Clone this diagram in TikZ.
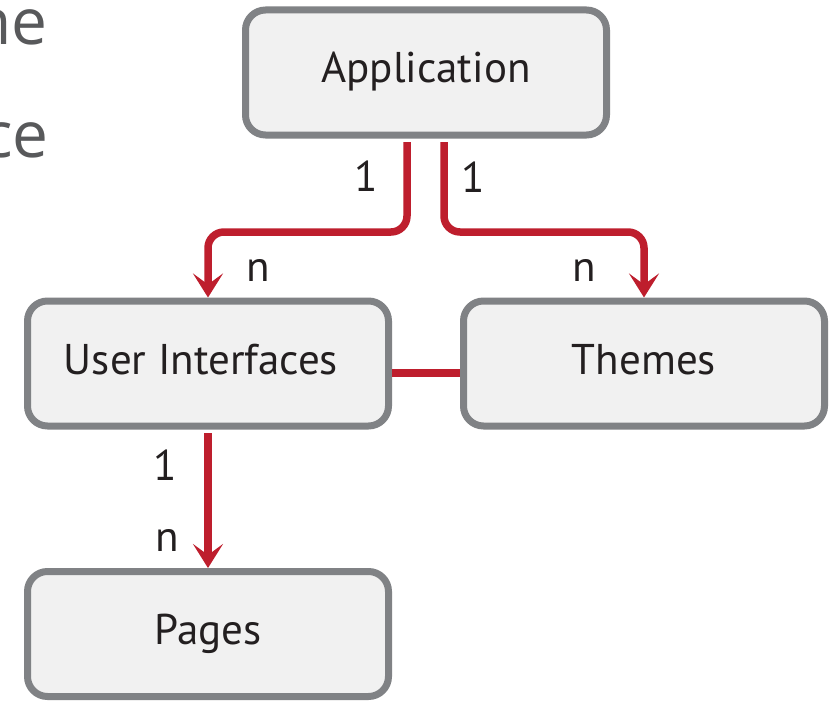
\documentclass[tikz,border=0pt]{standalone}
\usepackage{fontspec}
\setmainfont{PT Sans}
\newfontfamily\slidefont{Open Sans}
\usetikzlibrary{arrows.meta}
\definecolor{boxgray}{HTML}{808285}
\definecolor{boxfill}{HTML}{F1F1F1}
\definecolor{linkred}{HTML}{BE1E2D}
\definecolor{txt}{HTML}{231F20}
\definecolor{slidegray}{HTML}{58595B}
\begin{document}
\begin{tikzpicture}[x=1pt,y=-1pt,
  entity/.style={draw=boxgray, line width=7pt, fill=boxfill, rounded corners=20pt,
    minimum width=361pt, minimum height=125pt, font=\fontsize{43}{48}\selectfont,
    text=txt, text height=30pt, text depth=9pt, inner sep=0pt},
  link/.style={draw=linkred, line width=7.5pt, rounded corners=16pt},
  tip/.style={-{Stealth[length=24pt,width=30pt,inset=11pt]}},
  card/.style={font=\fontsize{43}{48}\selectfont, text=txt, inner sep=0pt},
  slide/.style={font=\slidefont\fontsize{64}{70}\selectfont, text=slidegray, inner sep=0pt, anchor=base east}
]
\useasboundingbox (0,0) rectangle (833,701);
\clip (0,0) rectangle (833,701);
\fill[white] (0,0) rectangle (833,701);

\node[slide] (ne) at (48,45) {ne};
\node[slide] (ce) at (49,157) {ce};

\node[entity] (app) at (426,72.5) {Application};
\node[entity] (ui) at (208,363.5) {User Interfaces\hspace*{14pt}};
\node[entity] (th) at (644,363.5) {Themes};
\node[entity] (pg) at (208,634) {Pages};

\draw[link,tip] ([xshift=-19pt,yshift=-3.5pt]app.south) -- ++(0,90) -| (ui.north);
\draw[link,tip] ([xshift=18pt,yshift=-3.5pt]app.south) -- ++(0,90) -| (th.north);
\draw[link] ([yshift=-9.5pt]ui.east) -- ([yshift=-9.5pt]th.west);
\draw[link,tip] ([yshift=-3.5pt]ui.south) -- (pg.north);

\node[card] (a1) at (366,176) {1};
\node[card] (a2) at (473,177) {1};
\node[card] (n1) at (258,270) {n};
\node[card] (n2) at (584,270) {n};
\node[card] (u1) at (165,465) {1};
\node[card] (p1) at (167,540) {n};
\end{tikzpicture}
\end{document}
